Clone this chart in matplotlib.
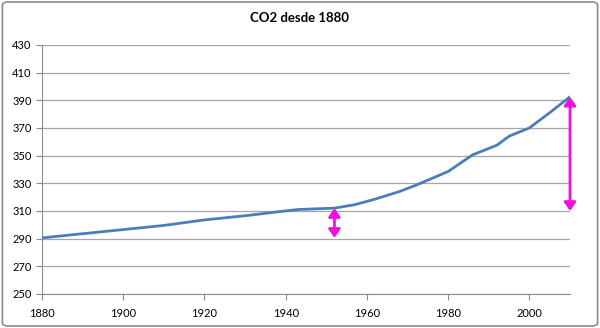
import matplotlib.pyplot as plt
from matplotlib.patches import FancyBboxPatch

# CO2 (ppm)
years = [1880, 1890, 1900, 1910, 1920, 1930, 1940, 1943, 1952, 1957, 1962, 1968,
         1972, 1980, 1986, 1992, 1995, 2000, 2005, 2010]
co2 = [290.5, 293.5, 296.5, 299.5, 303.5, 306.5, 310, 311, 312, 314.5, 318.5, 324,
       328.5, 338.5, 350.5, 357.5, 364, 370, 381, 392.5]

# magenta double arrows: (x, bottom, top)
arrows = [(1952, 290.5, 312), (2010, 310, 392.5)]

xticks = [1880, 1900, 1920, 1940, 1960, 1980, 2000]
yticks = list(range(250, 431, 20))

plt.rcParams['font.family'] = ['Lato', 'DejaVu Sans']

fig = plt.figure(figsize=(6, 3.28), dpi=100)
fig.patches.append(FancyBboxPatch((0.004, 0.006), 0.992, 0.988,
                                  boxstyle='round,pad=0,rounding_size=0.01',
                                  transform=fig.transFigure, fill=False,
                                  edgecolor='#8c8c8c', lw=1.2))
ax = fig.add_axes([0.07, 0.104, 0.88, 0.759])

ax.plot(years, co2, color='#4a7ebb', lw=2, solid_capstyle='round', zorder=3)

for x, lo, hi in arrows:
    ax.annotate('', xy=(x, hi), xytext=(x, lo),
                arrowprops=dict(arrowstyle='<|-|>,head_length=0.5,head_width=0.35',
                                color='#ee11dd', lw=2, shrinkA=0, shrinkB=0),
                zorder=4)

ax.set_xlim(1880, 2010)
ax.set_ylim(250, 430)
ax.set_xticks(xticks)
ax.set_yticks(yticks)
ax.grid(axis='y', color='#a6a6a6', lw=0.9)
ax.set_axisbelow(True)
for s in ['top', 'right']:
    ax.spines[s].set_visible(False)
for s in ['left', 'bottom']:
    ax.spines[s].set_color('#8c8c8c')
ax.tick_params(colors='#8c8c8c', labelcolor='black', labelsize=8, length=4)
ax.tick_params(axis='x', pad=6)

fig.text(0.5, 0.945, 'CO2 desde 1880', ha='center', va='center',
         fontsize=9.5, fontweight='bold')

fig.savefig('out.png', dpi=100)
